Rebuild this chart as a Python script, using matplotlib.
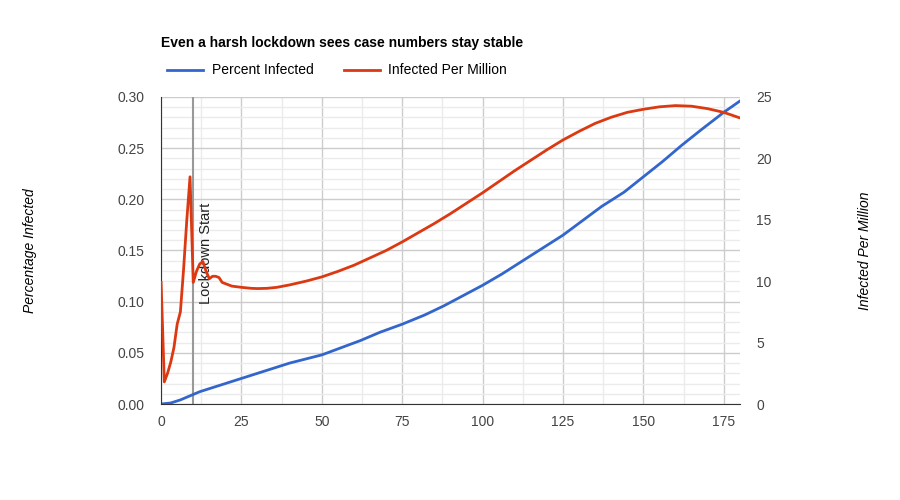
import matplotlib
matplotlib.use("Agg")
import matplotlib.pyplot as plt
from matplotlib.ticker import MultipleLocator, FormatStrFormatter

plt.rcParams['font.family'] = ['Liberation Sans', 'DejaVu Sans']

days_pm = [0,1,2,3,4,5,6,7,8,9,10,11,12,13,14,15,16,17,18,19,20,22,25,28,30,33,36,40,45,50,55,60,65,70,75,80,85,90,95,100,105,110,115,120,125,130,135,140,145,150,155,160,165,170,175,180]
per_million = [9.9,1.8,2.5,3.4,4.6,6.5,7.5,11,15,18.5,9.9,10.8,11.4,11.6,10.8,10.2,10.4,10.4,10.3,9.9,9.8,9.6,9.5,9.42,9.4,9.42,9.5,9.7,10.0,10.35,10.8,11.3,11.9,12.5,13.2,13.95,14.7,15.5,16.35,17.2,18.1,19.0,19.85,20.7,21.5,22.2,22.85,23.35,23.75,24.0,24.2,24.3,24.25,24.05,23.75,23.3]
days_pct = [0,3,6,9,12,15,18,25,30,35,40,50,56,62,68,75,82,88,94,100,106,112,118,125,131,137,144,150,156,162,168,175,180]
pct = [0,0.001,0.004,0.008,0.012,0.015,0.018,0.025,0.030,0.035,0.040,0.048,0.055,0.062,0.070,0.078,0.087,0.096,0.106,0.116,0.127,0.139,0.151,0.165,0.179,0.193,0.207,0.222,0.237,0.253,0.268,0.285,0.296]

fig = plt.figure(figsize=(9,5), dpi=100)
ax = fig.add_axes([0.179,0.192,0.643,0.614])
ax2 = ax.twinx()
blue, red = "#3366cc", "#dc3912"
l1, = ax.plot(days_pct, pct, color=blue, lw=2, label="Percent Infected")
l2, = ax2.plot(days_pm, per_million, color=red, lw=2, label="Infected Per Million")
ax.set_xlim(0,180); ax.set_ylim(0,0.30); ax2.set_ylim(0,25)
ax.xaxis.set_major_locator(MultipleLocator(25))
ax.xaxis.set_minor_locator(MultipleLocator(12.5))
ax.yaxis.set_major_locator(MultipleLocator(0.05))
ax.yaxis.set_minor_locator(MultipleLocator(0.01))
ax.yaxis.set_major_formatter(FormatStrFormatter('%.2f'))
ax2.yaxis.set_major_locator(MultipleLocator(5))
ax.grid(which='major', color='#cccccc', lw=1)
ax.grid(which='minor', color='#ebebeb', lw=1)
ax.set_axisbelow(True)
for a in (ax, ax2):
    for s in a.spines.values(): s.set_visible(False)
    a.tick_params(which='both', length=0, labelsize=10, colors='#444444')
ax.spines['bottom'].set_visible(True); ax.spines['bottom'].set_color('#333333')
ax.spines['left'].set_visible(True); ax.spines['left'].set_color('#333333')
ax.tick_params(axis='x', pad=8)
ax.tick_params(axis='y', pad=12)
ax2.tick_params(axis='y', pad=12)
ax.axvline(10, color='#999999', lw=1.5, zorder=1)
ax.text(11.8, 0.197, "Lockdown Start", rotation=90, fontsize=10.5, va='top', ha='left', color='#222222')
ax.set_ylabel("Percentage Infected", style='italic', fontsize=10, labelpad=58)
ax2.set_ylabel("Infected Per Million", style='italic', fontsize=10, labelpad=62)
fig.text(0.179, 0.907, "Even a harsh lockdown sees case numbers stay stable", fontweight='bold', fontsize=10)
fig.legend(handles=[l1,l2], loc='upper left', bbox_to_anchor=(0.172,0.898), ncol=2, frameon=False, fontsize=10, handlelength=2.6, handletextpad=0.6, columnspacing=2.2)
fig.savefig("out.png", dpi=100)
